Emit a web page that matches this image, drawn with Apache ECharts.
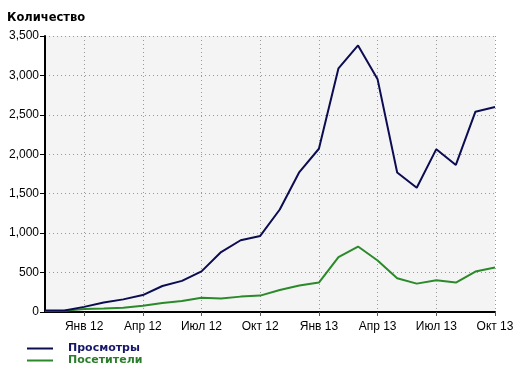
<!DOCTYPE html>
<html>
<head>
<meta charset="utf-8">
<script src="https://cdn.jsdelivr.net/npm/echarts@6/dist/echarts.min.js"></script>
<style>html,body{margin:0;padding:0;background:#fff;}#c{width:517px;height:375px;}</style>
</head>
<body>
<div id="c"></div>
<script>
var months = ['Ноя 11','Дек 11','Янв 12','Фев 12','Мар 12','Апр 12','Май 12','Июн 12','Июл 12','Авг 12','Сен 12','Окт 12',
              'Ноя 12','Дек 12','Янв 13','Фев 13','Мар 13','Апр 13','Май 13','Июн 13','Июл 13','Авг 13','Сен 13','Окт 13'];
var views    = [20, 20, 65, 120, 160, 215, 330, 395, 515, 760, 910, 965, 1300, 1775, 2070, 3090, 3380, 2950, 1770, 1575, 2065, 1865, 2540, 2600];
var visitors = [12, 15, 38, 45, 55, 78, 115, 140, 182, 172, 195, 208, 278, 335, 373, 695, 830, 653, 428, 360, 403, 373, 513, 564];
var seriesNames = ['Просмотры', 'Посетители'];
var yTitle = 'Количество';

var NAVY = '#0c0c52', GREEN = '#2a8a2a';
var quarterly = function (i) { return (i - 2) % 3 === 0; };
var chart = echarts.init(document.getElementById('c'), null, {renderer: 'canvas'});
chart.setOption({
  animation: false,
  backgroundColor: '#ffffff',
  title: {
    text: yTitle, left: 7, top: 12, padding: 0,
    textStyle: {fontFamily: 'DejaVu Sans', fontWeight: 'bold', fontSize: 11.5, color: '#000'}
  },
  legend: {
    orient: 'vertical', left: 27, top: 342.5, height: 30, width: 200, padding: 0, itemGap: 0,
    icon: 'rect', itemWidth: 26, itemHeight: 2,
    data: [
      {name: seriesNames[0], textStyle: {color: '#16166a'}},
      {name: seriesNames[1], textStyle: {color: '#2a7d2a'}}
    ],
    textStyle: {fontFamily: 'DejaVu Sans', fontWeight: 'bold', fontSize: 11, lineHeight: 12, padding: [0, 0, 0, 10]}
  },
  grid: {left: 45, right: 22, top: 36, bottom: 63, show: true, backgroundColor: '#f4f4f4', borderWidth: 0},
  xAxis: {
    type: 'category', data: months, boundaryGap: false,
    axisLine: {lineStyle: {color: '#000', width: 2}},
    axisTick: {show: true, interval: quarterly, length: 4, lineStyle: {color: '#555'}},
    axisLabel: {interval: quarterly, margin: 9, fontFamily: 'Liberation Sans', fontSize: 12, color: '#000'},
    splitLine: {show: true, interval: quarterly, lineStyle: {color: '#999', type: [1, 3], width: 1}}
  },
  yAxis: {
    type: 'value', min: 0, max: 3500, interval: 500,
    axisLine: {show: true, lineStyle: {color: '#000', width: 2}},
    axisTick: {show: true, length: 5, lineStyle: {color: '#000'}},
    axisLabel: {margin: 6, fontFamily: 'Liberation Sans', fontSize: 12, color: '#000',
      formatter: function (v) { return v.toLocaleString('en-US'); }},
    splitLine: {show: true, lineStyle: {color: '#999', type: [1, 3], width: 1}}
  },
  series: [
    {name: seriesNames[0], type: 'line', data: views, symbol: 'none', lineStyle: {color: NAVY, width: 2}, itemStyle: {color: NAVY}, z: 3},
    {name: seriesNames[1], type: 'line', data: visitors, symbol: 'none', lineStyle: {color: GREEN, width: 2}, itemStyle: {color: GREEN}, z: 2}
  ]
});
</script>
</body>
</html>
